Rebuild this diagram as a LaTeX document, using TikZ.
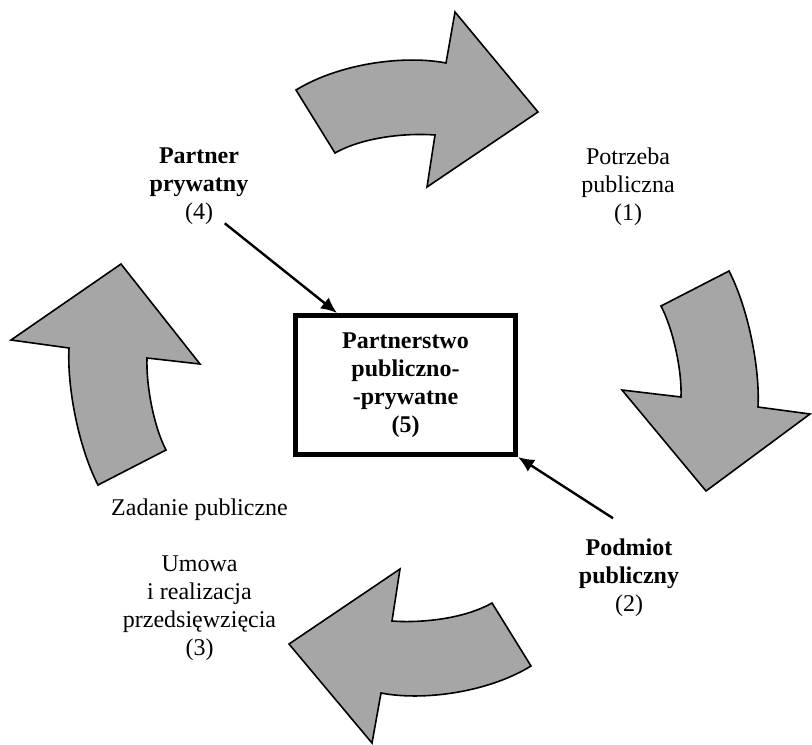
\documentclass[tikz,border=0pt]{standalone}
\usepackage{fontspec}
\setmainfont{Liberation Serif}
\usepackage{tikz}
\usetikzlibrary{arrows.meta,positioning}

\begin{document}
\begin{tikzpicture}[
    x=0.5pt, y=-0.5pt,
    bigarrow/.style={draw, line width=0.8pt, fill=black!35, line join=miter},
    note/.style={font=\fontsize{12}{14}\selectfont, align=center, inner sep=2pt},
    ppbox/.style={draw, rectangle, line width=2.5pt,
                  minimum width=110pt, minimum height=69.5pt,
                  font=\fontsize{12}{14}\selectfont\bfseries, align=center},
    conn/.style={-{Latex[length=8pt,width=7pt]}, line width=1.2pt},
    node distance=13.5pt
]
\useasboundingbox (0,0) rectangle (812,744);

% Curved arrows round the cycle
\draw[bigarrow] (296,90) .. controls (340,63) and (405,55) .. (446,63)
  -- (455,12) -- (538,112) -- (427,187) -- (435,135)
  .. controls (410,133) and (365,136) .. (335,153) -- cycle;
\draw[bigarrow] (661,306) -- (729,271) .. controls (749,310) and (760,370) .. (758,407)
  -- (810,414) -- (706,491) -- (622,390) -- (681,397)
  .. controls (682,370) and (673,329) .. (661,306) -- cycle;
\draw[bigarrow] (531,666) .. controls (487,693) and (422,701) .. (381,693)
  -- (372,743) -- (289,644) -- (400,569) -- (392,621)
  .. controls (417,623) and (462,620) .. (492,603) -- cycle;
\draw[bigarrow] (166,450) -- (98,485) .. controls (78,446) and (67,386) .. (69,348)
  -- (11,340) -- (121,264) -- (200,364) -- (147,358)
  .. controls (146,386) and (154,427) .. (166,450) -- cycle;

% Labels
\node[note] (potrzeba) at (628,186.5) {Potrzeba\\publiczna\\(1)};
\node[note] (podmiot) at (629,577.5) {\textbf{Podmiot}\\\textbf{publiczny}\\(2)};
\node[note] (zadanie) at (199.5,509.5) {Zadanie publiczne};
\node[note, below=of zadanie] (umowa) {Umowa\\i realizacja\\przedsięwzięcia\\(3)};
\node[note] (partner) at (199,186.5) {\textbf{Partner}\\\textbf{prywatny}\\(4)};

% Centre
\node[ppbox] (ppp) at (405.5,385) {Partnerstwo\\publiczno-\\-prywatne\\(5)};

\draw[conn] ([xshift=-14pt,yshift=3pt]partner.south east) -- ([xshift=22pt]ppp.north west);
\draw[conn] ([xshift=-8pt,yshift=8pt]podmiot.north) -- (ppp.south east);

\end{tikzpicture}
\end{document}
